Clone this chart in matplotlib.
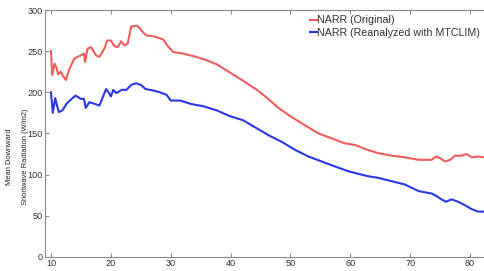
import numpy as np
import matplotlib.pyplot as plt

plt.rcParams['font.family'] = ['Liberation Sans', 'DejaVu Sans']

# latitude (deg N) and mean downward shortwave radiation (W/m2)
x_orig = [10.0, 10.2, 10.6, 10.9, 11.2, 11.6, 11.9, 12.5, 13.0, 13.9, 15.0, 15.5,
          15.7, 16.1, 16.7, 17.5, 18.1, 18.9, 19.4, 20.0, 20.6, 21.2, 21.7, 22.3,
          22.8, 23.4, 24.4, 25.5, 26.0, 27.2, 28.8, 29.3, 30.4, 32.1, 34.3, 36.0,
          37.7, 39.9, 42.1, 44.2, 45.8, 48.0, 50.2, 52.4, 54.7, 56.9, 59.1, 60.8,
          62.5, 64.7, 66.9, 69.1, 71.4, 73.6, 74.3, 75.0, 75.8, 76.7, 77.5, 78.6,
          79.4, 80.3, 81.4, 82.3]
y_orig = [250, 221, 235, 230, 222, 225, 221, 215, 227, 241, 245, 247,
          237, 253, 255, 245, 243, 253, 263, 263, 256, 255, 262, 257,
          259, 280, 281, 272, 269, 268, 264, 258, 249, 247, 243, 239,
          234, 224, 214, 204, 195, 181, 170, 160, 150, 144, 138, 136,
          131, 126, 123, 121, 118, 118, 122, 120, 116, 118, 123, 123,
          125, 121, 122, 121]

x_mtclim = [10.0, 10.3, 10.7, 10.9, 11.3, 11.9, 12.7, 13.6, 14.1, 15.0, 15.5, 15.8,
            16.4, 17.3, 18.1, 18.7, 19.2, 19.7, 20.0, 20.4, 20.9, 21.8, 22.6, 23.4,
            24.2, 25.0, 25.8, 27.2, 28.2, 29.3, 30.0, 31.6, 33.3, 35.5, 37.7, 39.9,
            42.1, 44.2, 46.3, 48.5, 50.8, 53.0, 55.2, 57.4, 59.7, 61.3, 63.0, 64.7,
            66.9, 69.1, 71.4, 73.6, 74.4, 75.2, 76.0, 76.9, 78.0, 79.1, 80.3, 81.4,
            82.3]
y_mtclim = [200, 175, 193, 187, 176, 178, 187, 193, 196, 192, 192, 181,
            188, 186, 184, 195, 204, 199, 195, 203, 199, 203, 203, 209,
            211, 209, 204, 202, 200, 197, 190, 190, 186, 183, 178, 171,
            166, 157, 148, 140, 130, 122, 116, 110, 104, 101, 98, 96,
            92, 88, 80, 77, 74, 70, 67, 70, 67, 63, 58, 55,
            55]

fig = plt.figure(figsize=(4.84, 2.71), dpi=100)
ax = fig.add_axes([0.093, 0.052, 0.907, 0.911])

ax.plot(x_orig, y_orig, color='#f05c5c', lw=1.5, label='NARR (Original)')
ax.plot(x_mtclim, y_mtclim, color='#2a38e4', lw=1.5,
        label='NARR (Reanalyzed with MTCLIM)')

ax.set_xlim(9.0, 82.33)
ax.set_ylim(0, 300)
ax.set_xticks(np.arange(10, 81, 10))
ax.set_yticks(np.arange(0, 301, 50))

for s in ['left', 'bottom', 'top']:
    ax.spines[s].set_color('#8a8a8a')
ax.spines['right'].set_visible(False)
ax.tick_params(direction='in', length=3, width=0.8, color='#8a8a8a',
               labelsize=6.6, labelcolor='#333333', pad=1.5, top=True)

ax.set_ylabel('Mean Downward\nShortwave Radiation (W/m2)', fontsize=5.4,
              color='#222222', linespacing=2.7)
ax.yaxis.set_label_coords(-0.037, 0.405)

fig.legend(loc='upper left', bbox_to_anchor=(0.64, 0.943), frameon=False,
           fontsize=7.7, handlelength=0.65, handletextpad=0.0, labelspacing=0.25,
           borderpad=0, borderaxespad=0, labelcolor='#333333')

fig.savefig('out.png', dpi=100)
